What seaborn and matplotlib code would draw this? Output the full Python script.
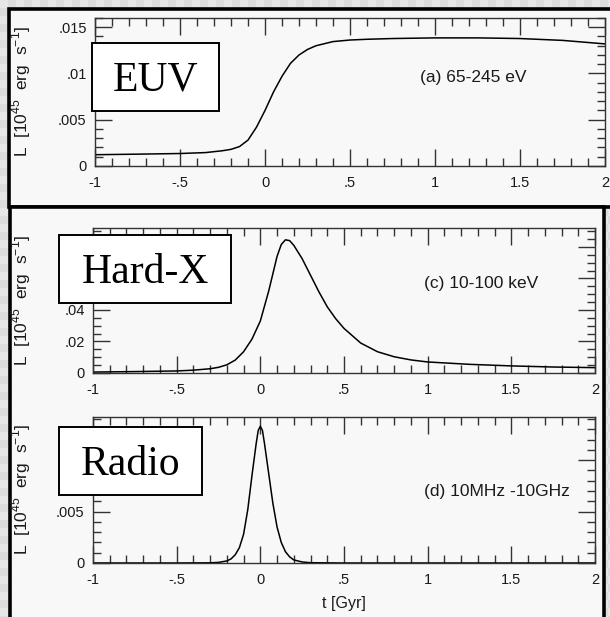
import numpy as np
import pandas as pd
import matplotlib
matplotlib.use("Agg")
import matplotlib.pyplot as plt
from matplotlib.patches import Rectangle
from matplotlib.ticker import MultipleLocator, FuncFormatter
import seaborn as sns

# Light curves: time [Gyr] and luminosity [1e45 erg/s]
euv_t = [-1.0, -0.75, -0.5, -0.35, -0.25, -0.2, -0.15, -0.1, -0.05, 0.0, 0.05,
         0.1, 0.15, 0.2, 0.25, 0.3, 0.4, 0.5, 0.6, 0.75, 1.0, 1.25, 1.5, 1.75, 2.0]
euv_L = [0.00122, 0.00128, 0.00135, 0.00145, 0.00165, 0.0018, 0.0021, 0.0028,
         0.0042, 0.0060, 0.0080, 0.0097, 0.0111, 0.0120, 0.0126, 0.0130, 0.01345,
         0.01362, 0.0137, 0.01378, 0.01385, 0.01385, 0.01378, 0.01358, 0.0132]

hx_t = [-1.0, -0.75, -0.5, -0.4, -0.3, -0.25, -0.2, -0.15, -0.1, -0.05, 0.0, 0.05,
        0.1, 0.125, 0.15, 0.175, 0.2, 0.25, 0.3, 0.35, 0.4, 0.45, 0.5, 0.6, 0.7,
        0.8, 0.9, 1.0, 1.25, 1.5, 1.75, 2.0]
hx_L = [0.0006, 0.0009, 0.0013, 0.0018, 0.0027, 0.0036, 0.0052, 0.0082, 0.0135,
        0.0215, 0.0330, 0.0520, 0.0740, 0.0815, 0.0845, 0.0840, 0.0810, 0.0725,
        0.0620, 0.0515, 0.0420, 0.0345, 0.0283, 0.0190, 0.0135, 0.0103, 0.0083,
        0.0070, 0.0055, 0.0045, 0.0038, 0.0034]

rd_t = [-1.0, -0.5, -0.3, -0.25, -0.2, -0.175, -0.15, -0.125, -0.1, -0.075, -0.05,
        -0.025, -0.0125, 0.0, 0.0125, 0.025, 0.05, 0.075, 0.1, 0.125, 0.15, 0.175,
        0.2, 0.25, 0.3, 0.5, 1.0, 1.5, 2.0]
rd_L = [0.0, 0.0, 0.00002, 0.00006, 0.0002, 0.0004, 0.0008, 0.0015, 0.0028, 0.0052,
        0.0085, 0.0116, 0.0129, 0.0133, 0.0129, 0.0116, 0.0087, 0.0058, 0.0035,
        0.0020, 0.0011, 0.0006, 0.0003, 0.0001, 0.00003, 0.0, 0.0, 0.0, 0.0]

band_labels = ["(a) 65-245 eV", "(c) 10-100 keV", "(d) 10MHz -10GHz"]
box_labels = ["EUV", "Hard-X", "Radio"]

sns.set_style("ticks")
plt.rcParams["font.family"] = ["Liberation Sans", "DejaVu Sans"]
plt.rcParams["mathtext.fontset"] = "custom"
plt.rcParams["mathtext.rm"] = "Liberation Sans"

W, H = 610, 617
fig = plt.figure(figsize=(W / 100, H / 100), dpi=100)
fig.patch.set_facecolor("#dcdcdc")

# checkered backdrop
cell = 8
yy, xx = np.mgrid[0:H, 0:W]
checker = np.where(((yy // cell) + (xx // cell)) % 2 == 0, 0.90, 0.86)
fig.figimage(checker, cmap="gray", vmin=0, vmax=1, origin="upper", zorder=-5)

def fig_rect(x0, y0, x1, y1, **kw):
    """Rectangle given in pixel coords measured from the top-left corner."""
    return Rectangle((x0 / W, 1 - y1 / H), (x1 - x0) / W, (y1 - y0) / H,
                     transform=fig.transFigure, **kw)

inner = "#f8f8f8"
fig.add_artist(fig_rect(9, 9, 625, 207, facecolor=inner, edgecolor="black",
                        linewidth=2.6, zorder=-2))
fig.add_artist(fig_rect(10, 207, 604, 640, facecolor=inner, edgecolor="black",
                        linewidth=2.6, zorder=-2))

def ax_at(x0, y0, x1, y1):
    return fig.add_axes([x0 / W, 1 - y1 / H, (x1 - x0) / W, (y1 - y0) / H])

def make_fmt(label_max):
    """IDL-style labels (no leading zero); values under the label boxes stay blank."""
    def fmt(v, pos):
        if v > label_max:
            return ""
        s = f"{v:g}"
        if s.startswith("0."):
            s = s[1:]
        elif s.startswith("-0."):
            s = "-" + s[2:]
        return s
    return fmt

panels = [
    dict(pos=(95, 18, 605, 166), t=euv_t, L=euv_L, ylim=0.016, major=0.005, minor=0.001,
         ymax_label=0.02, band=band_labels[0], band_xy=(0.637, 0.60),
         box=(92, 43, 219, 111), box_text=box_labels[0], base=90.5),
    dict(pos=(93, 228, 595, 373), t=hx_t, L=hx_L, ylim=0.092, major=0.02, minor=0.005,
         ymax_label=0.045, band=band_labels[1], band_xy=(0.66, 0.62),
         box=(59, 235, 231, 303), box_text=box_labels[1], base=283),
    dict(pos=(93, 417, 595, 563), t=rd_t, L=rd_L, ylim=0.0142, major=0.005, minor=0.001,
         ymax_label=0.006, band=band_labels[2], band_xy=(0.66, 0.49),
         box=(59, 427, 202, 495), box_text=box_labels[2], base=475),
]

ink = "#1a1a1a"
for i, p in enumerate(panels):
    ax = ax_at(*p["pos"])
    ax.set_facecolor(inner)
    df = pd.DataFrame({"t": p["t"], "L": p["L"]})
    sns.lineplot(data=df, x="t", y="L", ax=ax, color="black", linewidth=1.1)
    ax.set_xlim(-1, 2)
    ax.set_ylim(0, p["ylim"])
    ax.xaxis.set_major_locator(MultipleLocator(0.5))
    ax.xaxis.set_minor_locator(MultipleLocator(0.1))
    ax.yaxis.set_major_locator(MultipleLocator(p["major"]))
    ax.yaxis.set_minor_locator(MultipleLocator(p["minor"]))
    ax.xaxis.set_major_formatter(FuncFormatter(make_fmt(10)))
    ax.yaxis.set_major_formatter(FuncFormatter(make_fmt(p["ymax_label"])))
    ax.tick_params(which="both", direction="in", top=True, right=True,
                   color="#333333", width=1.0, labelsize=10.5, labelcolor=ink)
    ax.tick_params(which="major", length=12, pad=6)
    ax.tick_params(axis="x", which="major", pad=7)
    ax.tick_params(which="minor", length=5.5)
    for s in ax.spines.values():
        s.set_linewidth(1.0)
        s.set_color("#333333")
    ax.set_xlabel("t [Gyr]" if i == 2 else "", fontsize=11.5, color=ink, labelpad=7)
    ax.set_ylabel(r"L  [10$^{45}$  erg  s$^{-1}$]", fontsize=12.5, color=ink)
    x0, y0, x1, y1 = p["pos"]
    ax.yaxis.set_label_coords((33 - x0) / (x1 - x0), 0.5)
    ax.text(*p["band_xy"], p["band"], transform=ax.transAxes, fontsize=12.5,
            color=ink, ha="left", va="center")

    bx0, by0, bx1, by1 = p["box"]
    fig.add_artist(fig_rect(bx0, by0, bx1, by1, facecolor="white",
                            edgecolor="black", linewidth=1.4, zorder=5))
    fig.text((bx0 + bx1) / 2 / W, 1 - p["base"] / H, p["box_text"],
             family=["Liberation Serif", "DejaVu Serif"], fontsize=30,
             ha="center", va="baseline", color="black", zorder=6)

fig.savefig("out.png", dpi=100, facecolor=fig.get_facecolor())
